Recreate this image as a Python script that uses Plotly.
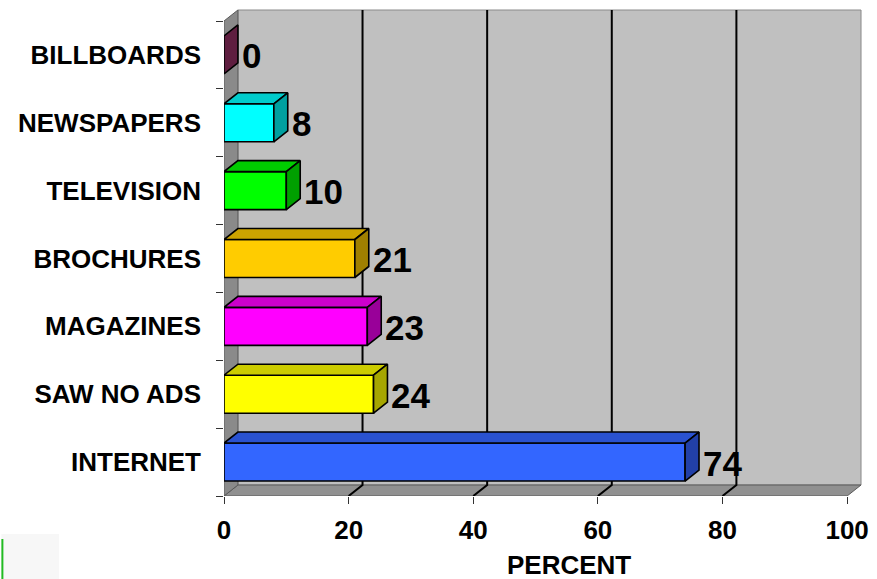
import plotly.graph_objects as go

# Survey results: where respondents saw ads (percent)
categories = ["INTERNET", "SAW NO ADS", "MAGAZINES", "BROCHURES",
              "TELEVISION", "NEWSPAPERS", "BILLBOARDS"]
values = [74, 24, 23, 21, 10, 8, 0]
front_colors = ["#3366FF", "#FFFF00", "#FF00FF", "#FFCC00",
                "#00FF00", "#00FFFF", "#993366"]
top_colors = ["#2a52d0", "#CCCC00", "#CC00CC", "#CCA300",
              "#00CC00", "#00CCCC", "#7a2952"]
side_colors = ["#2240a8", "#A6A600", "#990099", "#A08000",
               "#00A000", "#00A0A0", "#5f1e40"]
x_ticks = [0, 20, 40, 60, 80, 100]

# pixel geometry of the plotting box
W, H = 877, 579
L, R, T, B = 224, 9, 8, 83
px_per_x = 6.27
px_per_y = 475 / 7
x_max = (W - L - R) / px_per_x
y_min = -0.5
y_max = y_min + (H - T - B) / px_per_y

# 3-D depth offset (right and up)
dx = 14 / px_per_x
dy = 11 / px_per_y
bw = 0.56  # bar thickness in category units
n = len(categories)
y_lo, y_hi = -0.5, n - 0.5

fig = go.Figure()


def path(xs, ys):
    return "M " + " L ".join(f"{x},{y}" for x, y in zip(xs, ys)) + " Z"


def wall(xs, ys, fill, line_color):
    fig.add_shape(type="path", xref="x", yref="y", path=path(xs, ys),
                  fillcolor=fill, line=dict(color=line_color, width=1),
                  layer="below")


# back wall, floor and left wall
wall([dx, 100 + dx, 100 + dx, dx],
     [y_lo + dy, y_lo + dy, y_hi + dy, y_hi + dy], "#C0C0C0", "#8a8a8a")
wall([0, 100, 100 + dx, dx],
     [y_lo, y_lo, y_lo + dy, y_lo + dy], "#909090", "#5a5a5a")
wall([0, dx, dx, 0],
     [y_lo, y_lo + dy, y_hi + dy, y_hi], "#8a8a8a", "#5a5a5a")

# gridlines on the back wall running down across the floor
for v in x_ticks[1:-1]:
    fig.add_shape(type="path", xref="x", yref="y",
                  path=f"M {v},{y_lo} L {v + dx},{y_lo + dy} L {v + dx},{y_hi + dy}",
                  line=dict(color="#000000", width=2), layer="below")

# bar front faces
fig.add_trace(go.Bar(
    x=values, y=list(range(n)), orientation="h", width=bw,
    marker=dict(color=front_colors, line=dict(color="#000000", width=1.6)),
    hoverinfo="skip", showlegend=False))


def face(xs, ys, fill):
    fig.add_trace(go.Scatter(
        x=xs + [xs[0]], y=ys + [ys[0]], mode="lines", fill="toself",
        fillcolor=fill, line=dict(color="#000000", width=1.6),
        hoverinfo="skip", showlegend=False))


# bar top and side faces
for i, v in enumerate(values):
    y0, y1 = i - bw / 2, i + bw / 2
    if v > 0:
        face([0, v, v + dx, dx], [y1, y1, y1 + dy, y1 + dy], top_colors[i])
    face([v, v + dx, v + dx, v], [y0, y0 + dy, y1 + dy, y1], side_colors[i])

# value labels beside each bar
for i, v in enumerate(values):
    fig.add_annotation(
        x=v + dx, y=i, text=f"<b>{v}</b>", showarrow=False,
        xanchor="left", yanchor="middle", xshift=2, yshift=-1,
        font=dict(family="Arial, Liberation Sans", size=35, color="#000000"))

# axis title
fig.add_annotation(
    x=(571 - L) / (W - L - R), y=-(565 - (H - B)) / (H - T - B),
    xref="paper", yref="paper", text="<b>PERCENT</b>", showarrow=False,
    xanchor="center", yanchor="middle",
    font=dict(family="Arial, Liberation Sans", size=26, color="#000000"))

# small mark in the lower-left corner
fig.add_shape(type="rect", xref="paper", yref="paper",
              x0=-L / (W - L - R), x1=(58 - L) / (W - L - R),
              y0=-(H - (H - B)) / (H - T - B), y1=-(534 - (H - B)) / (H - T - B),
              fillcolor="#f7f7f7", line=dict(width=0), layer="below")
fig.add_shape(type="line", xref="paper", yref="paper",
              x0=-(L - 1) / (W - L - R), x1=-(L - 1) / (W - L - R),
              y0=-(H - (H - B)) / (H - T - B), y1=-(539 - (H - B)) / (H - T - B),
              line=dict(color="#22bb22", width=2))

fig.update_layout(
    width=W, height=H,
    margin=dict(l=L, r=R, t=T, b=B, pad=0),
    paper_bgcolor="#FFFFFF", plot_bgcolor="#FFFFFF",
    showlegend=False,
    font=dict(family="Arial, Liberation Sans", color="#000000"),
    xaxis=dict(
        range=[0, x_max], showgrid=False, zeroline=False,
        tickvals=x_ticks, ticktext=[f"<b>{t}</b>" for t in x_ticks],
        ticks="outside", ticklen=7, tickwidth=1, tickcolor="#333333",
        showline=False, tickfont=dict(size=26), ticklabelstandoff=4,
        fixedrange=True),
    yaxis=dict(
        range=[y_min, y_max], showgrid=False, zeroline=False,
        tickvals=list(range(n)), ticktext=[f"<b>{c}</b>" for c in categories],
        ticks="", showline=False, tickfont=dict(size=26),
        ticklabelstandoff=22,
        minor=dict(tickvals=[k - 0.5 for k in range(n + 1)], ticks="outside",
                   ticklen=7, tickwidth=1, tickcolor="#333333", showgrid=False),
        fixedrange=True),
)

fig.write_html("out.html")
